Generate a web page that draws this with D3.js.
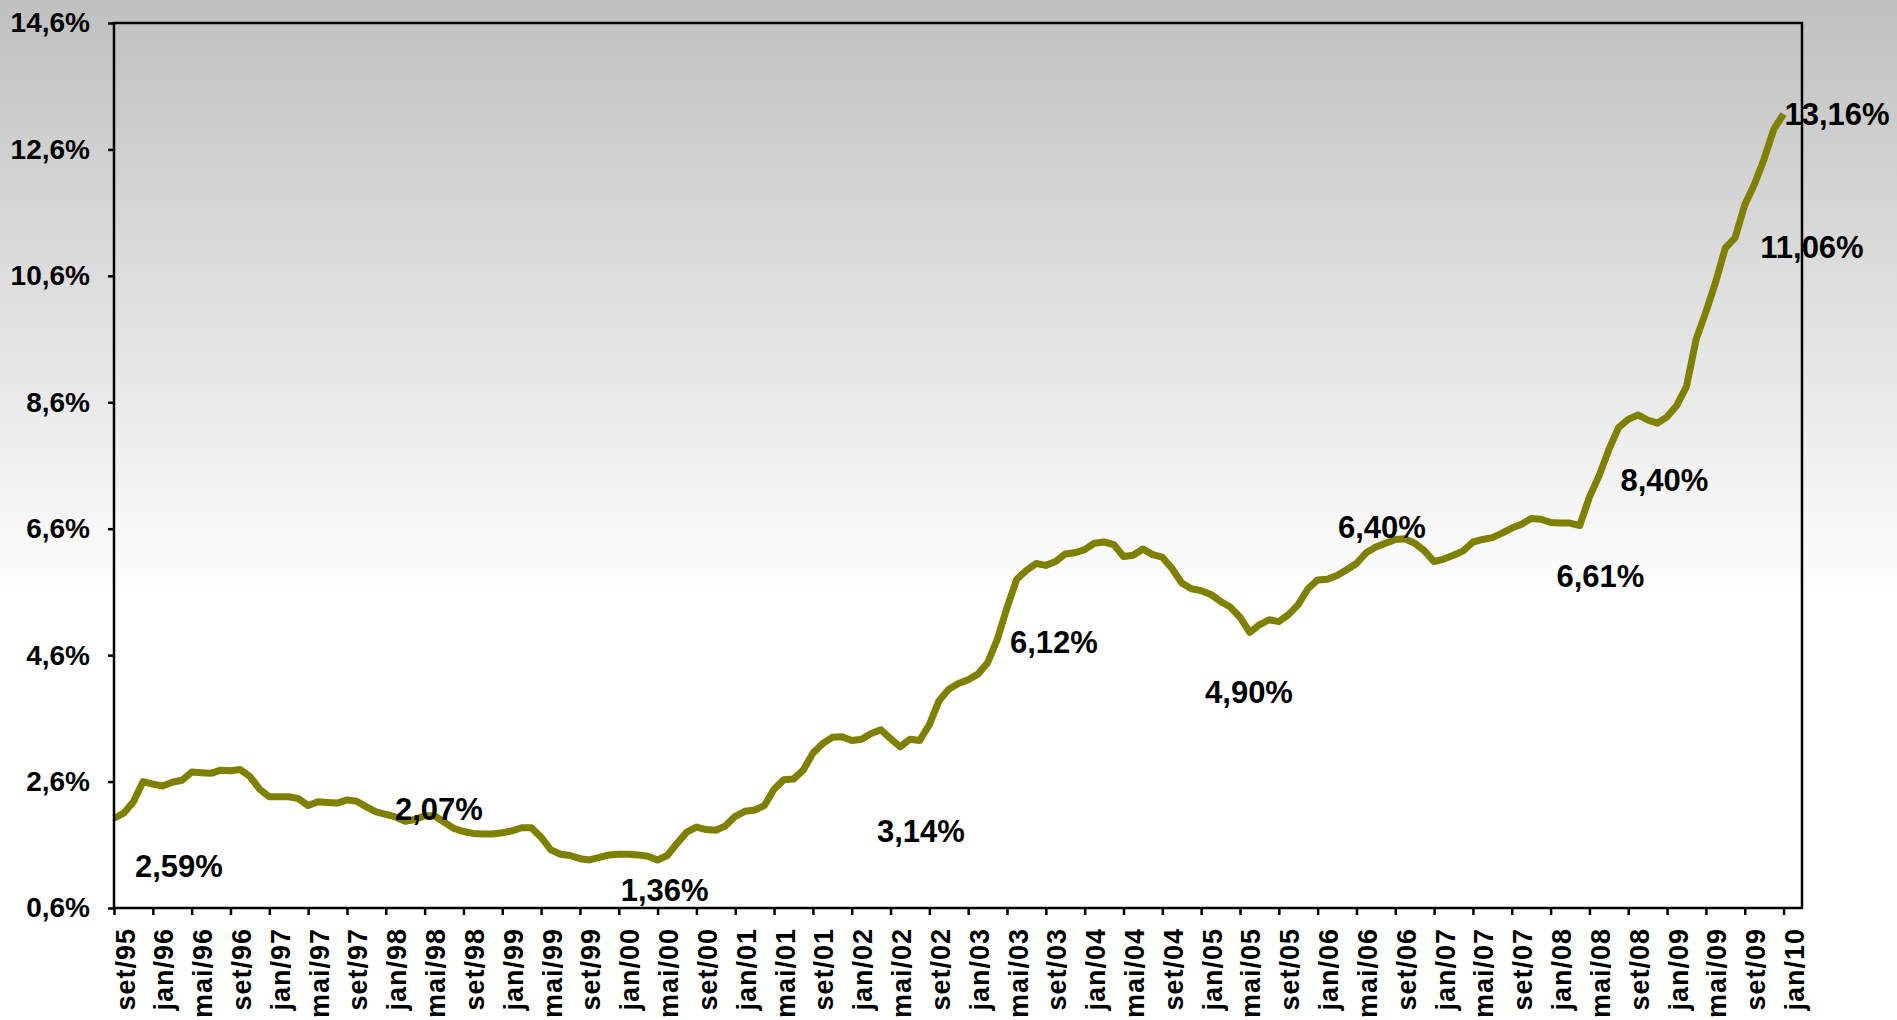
<!DOCTYPE html>
<html>
<head>
<meta charset="utf-8">
<script src="https://cdn.jsdelivr.net/npm/d3@7"></script>
<style>
html, body { margin: 0; padding: 0; background: #ffffff; overflow: hidden; }
svg { display: block; }
</style>
</head>
<body>
<svg id="chart" width="1897" height="1020"></svg>
<script>
// ---------- DATA ----------
// x-axis tick labels (every 4 months, starting set/95)
const tickLabels = ["set/95","jan/96","mai/96","set/96","jan/97","mai/97","set/97","jan/98","mai/98","set/98",
  "jan/99","mai/99","set/99","jan/00","mai/00","set/00","jan/01","mai/01","set/01","jan/02",
  "mai/02","set/02","jan/03","mai/03","set/03","jan/04","mai/04","set/04","jan/05","mai/05",
  "set/05","jan/06","mai/06","set/06","jan/07","mai/07","set/07","jan/08","mai/08","set/08",
  "jan/09","mai/09","set/09","jan/10"];

// y-axis ticks (%)
const yTicks = [0.6, 2.6, 4.6, 6.6, 8.6, 10.6, 12.6, 14.6];

// monthly values (%), set/95 ... jan/10
const values = [
  2.02, 2.10, 2.28, 2.60, 2.56, 2.53, 2.59, 2.62, 2.75, 2.74, 2.73, 2.78,
  2.77, 2.79, 2.68, 2.48, 2.36, 2.36, 2.36, 2.33, 2.22, 2.28, 2.27, 2.26,
  2.31, 2.29, 2.20, 2.12, 2.08, 2.04, 1.97, 2.00, 2.06, 2.06, 1.96, 1.86,
  1.81, 1.78, 1.77, 1.77, 1.79, 1.82, 1.87, 1.87, 1.72, 1.52, 1.45, 1.43,
  1.38, 1.36, 1.40, 1.44, 1.45, 1.45, 1.44, 1.42, 1.36, 1.43, 1.62, 1.80,
  1.88, 1.84, 1.83, 1.90, 2.05, 2.13, 2.15, 2.22, 2.48, 2.63, 2.64, 2.78,
  3.05, 3.20, 3.30, 3.31, 3.25, 3.27, 3.36, 3.42, 3.28, 3.15, 3.27, 3.25,
  3.50, 3.88, 4.06, 4.15, 4.21, 4.30, 4.48, 4.85, 5.35, 5.80, 5.94, 6.05,
  6.02, 6.08, 6.20, 6.22, 6.27, 6.37, 6.39, 6.35, 6.16, 6.18, 6.28, 6.19,
  6.15, 5.97, 5.74, 5.65, 5.62, 5.56, 5.45, 5.36, 5.20, 4.96, 5.08, 5.16,
  5.13, 5.24, 5.40, 5.65, 5.79, 5.80, 5.86, 5.95, 6.05, 6.22, 6.31, 6.37,
  6.43, 6.44, 6.37, 6.25, 6.08, 6.12, 6.18, 6.25, 6.39, 6.43, 6.46, 6.53,
  6.61, 6.67, 6.76, 6.75, 6.70, 6.69, 6.69, 6.65, 7.10, 7.44, 7.85, 8.20,
  8.33, 8.40, 8.32, 8.27, 8.37, 8.55, 8.85, 9.60, 10.03, 10.50, 11.04, 11.20,
  11.72, 12.05, 12.45, 12.92, 13.16
];

// annotation texts and their anchor (month index, value)
const noteTexts = ["2,59%", "2,07%", "1,36%", "3,14%", "6,12%", "4,90%", "6,40%", "6,61%", "8,40%", "11,06%", "13,16%"];
const noteMonths = [2.16, 28.95, 52.2, 78.6, 92.3, 112.4, 126.1, 148.6, 155.2, 169.6, 172.1];
const noteValues = [1.09, 1.99, 0.71, 1.64, 4.63, 3.84, 6.45, 5.68, 7.20, 10.88, 12.99];

// ---------- LAYOUT ----------
const W = 1897, H = 1020;
const plot = { left: 114, right: 1802, top: 23, bottom: 908 };
const FONT = "'Liberation Sans', Arial, Helvetica, sans-serif";

const svg = d3.select("#chart");

// background gradient over whole chart
const defs = svg.append("defs");
const grad = defs.append("linearGradient")
  .attr("id", "bg").attr("gradientUnits", "userSpaceOnUse")
  .attr("x1", 0).attr("y1", 0).attr("x2", 0).attr("y2", H);
grad.append("stop").attr("offset", 0).attr("stop-color", "#c0c0c0");
grad.append("stop").attr("offset", 0.59).attr("stop-color", "#ffffff");
grad.append("stop").attr("offset", 1).attr("stop-color", "#ffffff");
svg.append("rect").attr("width", W).attr("height", H).attr("fill", "url(#bg)");

// scales
const x = d3.scaleLinear().domain([0, 173.9]).range([plot.left, plot.right]);
const y = d3.scaleLinear().domain([0.6, 14.6]).range([plot.bottom, plot.top]);

const fmtPct = d => d3.format(".1f")(d).replace(".", ",") + "%";

// y axis
const yAxis = svg.append("g")
  .attr("transform", `translate(${plot.left},0)`)
  .call(d3.axisLeft(y).tickValues(yTicks).tickSize(6).tickPadding(18).tickFormat(fmtPct));
yAxis.select(".domain").remove();
yAxis.selectAll(".tick line").attr("stroke", "#000").attr("stroke-width", 2.5);
yAxis.selectAll(".tick text")
  .attr("fill", "#000")
  .style("font-family", FONT).style("font-weight", "bold").style("font-size", "28px");

// x axis
const tickIdx = tickLabels.map((_, i) => i * 4);
const xAxis = svg.append("g")
  .attr("transform", `translate(0,${plot.bottom})`)
  .call(d3.axisBottom(x).tickValues(tickIdx).tickSize(7).tickFormat(d => tickLabels[d / 4]));
xAxis.select(".domain").remove();
xAxis.selectAll(".tick line").attr("stroke", "#000").attr("stroke-width", 2.5);
xAxis.selectAll(".tick text")
  .attr("fill", "#000")
  .attr("transform", "rotate(-90)")
  .attr("text-anchor", "end")
  .attr("x", -20)
  .attr("y", 20)
  .attr("dy", 0)
  .style("font-family", FONT).style("font-weight", "bold").style("font-size", "27px")
  .style("letter-spacing", "1px");

// the series line
const line = d3.line().x((d, i) => x(i)).y(d => y(d));
svg.append("path")
  .datum(values)
  .attr("d", line)
  .attr("fill", "none")
  .attr("stroke", "#808000")
  .attr("stroke-width", 7)
  .attr("stroke-linejoin", "round");

// plot frame
svg.append("rect")
  .attr("x", plot.left).attr("y", plot.top)
  .attr("width", plot.right - plot.left).attr("height", plot.bottom - plot.top)
  .attr("fill", "none").attr("stroke", "#000").attr("stroke-width", 2.5);

// annotations
svg.append("g").selectAll("text")
  .data(noteTexts)
  .join("text")
  .attr("x", (d, i) => x(noteMonths[i]))
  .attr("y", (d, i) => y(noteValues[i]))
  .attr("fill", "#000")
  .style("font-family", FONT).style("font-weight", "bold").style("font-size", "31px")
  .text(d => d);
</script>
</body>
</html>
